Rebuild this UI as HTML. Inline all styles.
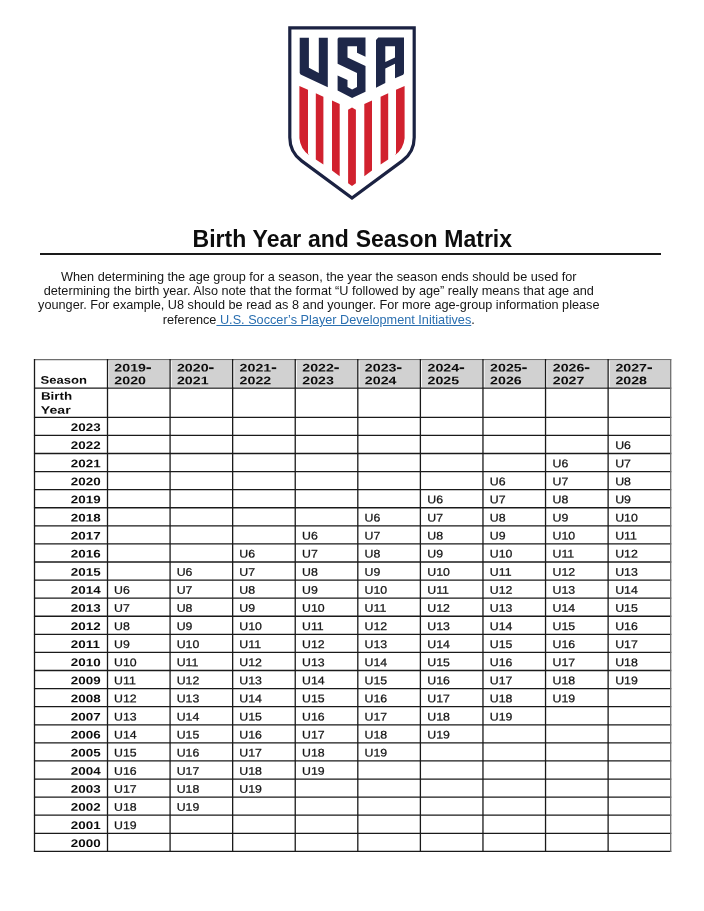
<!DOCTYPE html>
<html><head><meta charset="utf-8"><title>Birth Year and Season Matrix</title>
<style>
html,body{margin:0;padding:0;background:#fff}
body{width:704px;height:911px;position:relative;overflow:hidden;font-family:"Liberation Sans",sans-serif;color:#111}
.title{position:absolute;left:0.3px;width:704px;top:225.9px;text-align:center;font-weight:bold;font-size:23px;word-spacing:0.4px;line-height:26px;color:#0d0d0d;white-space:nowrap}
.rule{position:absolute;left:40px;width:621px;top:253px;height:2px;background:#1a1a1a}
.p{position:absolute;left:0;width:637.6px;text-align:center;font-size:12.7px;line-height:14.4px;color:#161616;white-space:nowrap}
.p a{color:#2a6fb0;text-decoration:underline}
.b,.n{position:absolute;left:0;top:0;transform-origin:0 0;font-size:11px;line-height:13px;white-space:nowrap;color:#0c0c0c}
.b{font-weight:bold}
.n{color:#141414;-webkit-text-stroke:0.25px #141414}
.pg{position:absolute;left:0;top:0;width:704px;height:911px;will-change:transform}
.hy{position:absolute;width:4.4px;height:1.9px;background:#0c0c0c}
</style></head><body><div class="pg">
<svg style="position:absolute;left:0;top:0" width="704" height="220" viewBox="0 0 704 220">
<path d="M289.8,27.8 H414.2 V137.5 Q414.2,152.2 402.36,160.9 L352,198 L301.64,160.9 Q289.8,152.2 289.8,137.5 Z" fill="#fff" stroke="#1b2242" stroke-width="3.2" stroke-linejoin="miter"/>
<path fill="#d1212e" d="M299.4,86.1 L308,89.8 V153.6 L309,155.2 Q300.4,149 299.4,138.3 Z"/>
<polygon points="315.8,93.3 323.4,96.8 323.4,164.4 315.8,159.5" fill="#d1212e"/>
<polygon points="332.0,100.5 339.7,104.1 339.7,176.2 332.0,170.6" fill="#d1212e"/>
<polygon points="348.1,109.7 352,107.6 355.9,109.7 355.9,183.2 352,185.9 348.1,183.2" fill="#d1212e"/>
<polygon points="364.3,104.1 372.0,100.5 372.0,170.6 364.3,176.2" fill="#d1212e"/>
<polygon points="380.6,96.8 388.2,93.3 388.2,159.5 380.6,164.4" fill="#d1212e"/>
<path fill="#d1212e" d="M404.6,86.1 L396,89.8 V153.6 L395,155.2 Q403.6,149 404.6,138.3 Z"/>
<polygon fill="#1e2749" points="299.7,37.7 308.9,37.7 308.9,67.8 318.8,72.9 318.8,37.7 327.8,37.7 327.8,87.3 300.6,74.5 299.7,73"/>
<polygon fill="#1e2749" points="337.6,38.7 338.7,37.6 365.5,37.6 365.5,56.8 357,52.7 357,46.3 347.5,46.3 347.5,57.4 365.5,66.1 365.5,91.7 352.1,98.1 337.6,90.6 337.6,75.4 347.5,80.1 347.5,87.1 352.1,89.4 357,87.1 357,73.1 337.6,63.8"/>
<path fill="#1e2749" fill-rule="evenodd" d="M376,39.9 L378.3,37.6 H404 V73.2 L403.2,74.7 L395,78.3 V63.8 L385.3,68.4 V83 L376,87.7 Z M385.3,46.3 H395 V57.4 L385.3,62 Z"/>
</svg>
<div class="title">Birth Year and Season Matrix</div>
<div class="rule"></div>
<div class="p" style="top:269.6px">When determining the age group for a season, the year the season ends should be used for<br>determining the birth year. Also note that the format “U followed by age” really means that age and<br>younger. For example, U8 should be read as 8 and younger. For more age-group information please<br>reference<a> U.S. Soccer’s Player Development Initiatives</a>.</div>
<svg style="position:absolute;left:0;top:0" width="704" height="911" viewBox="0 0 704 911"><rect x="109.10" y="360.60" width="60.38" height="26.30" fill="#d1d1d1"/>
<rect x="171.68" y="360.60" width="60.38" height="26.30" fill="#d1d1d1"/>
<rect x="234.26" y="360.60" width="60.38" height="26.30" fill="#d1d1d1"/>
<rect x="296.83" y="360.60" width="60.38" height="26.30" fill="#d1d1d1"/>
<rect x="359.41" y="360.60" width="60.38" height="26.30" fill="#d1d1d1"/>
<rect x="421.99" y="360.60" width="60.38" height="26.30" fill="#d1d1d1"/>
<rect x="484.57" y="360.60" width="60.38" height="26.30" fill="#d1d1d1"/>
<rect x="547.14" y="360.60" width="60.38" height="26.30" fill="#d1d1d1"/>
<rect x="609.72" y="360.60" width="60.38" height="26.30" fill="#d1d1d1"/>
<line x1="33.95" x2="671.25" y1="359.60" y2="359.60" stroke="#6e6e6e" stroke-width="1.3"/>
<line x1="33.95" x2="671.25" y1="388.10" y2="388.10" stroke="#1a1a1a" stroke-width="1.45"/>
<line x1="33.95" x2="671.25" y1="417.30" y2="417.30" stroke="#1a1a1a" stroke-width="1.3"/>
<line x1="33.95" x2="671.25" y1="435.39" y2="435.39" stroke="#1a1a1a" stroke-width="1.3"/>
<line x1="33.95" x2="671.25" y1="453.48" y2="453.48" stroke="#1a1a1a" stroke-width="1.3"/>
<line x1="33.95" x2="671.25" y1="471.56" y2="471.56" stroke="#1a1a1a" stroke-width="1.3"/>
<line x1="33.95" x2="671.25" y1="489.65" y2="489.65" stroke="#1a1a1a" stroke-width="1.3"/>
<line x1="33.95" x2="671.25" y1="507.74" y2="507.74" stroke="#1a1a1a" stroke-width="1.3"/>
<line x1="33.95" x2="671.25" y1="525.83" y2="525.83" stroke="#1a1a1a" stroke-width="1.3"/>
<line x1="33.95" x2="671.25" y1="543.91" y2="543.91" stroke="#1a1a1a" stroke-width="1.3"/>
<line x1="33.95" x2="671.25" y1="562.00" y2="562.00" stroke="#1a1a1a" stroke-width="1.3"/>
<line x1="33.95" x2="671.25" y1="580.09" y2="580.09" stroke="#1a1a1a" stroke-width="1.3"/>
<line x1="33.95" x2="671.25" y1="598.17" y2="598.17" stroke="#1a1a1a" stroke-width="1.3"/>
<line x1="33.95" x2="671.25" y1="616.26" y2="616.26" stroke="#1a1a1a" stroke-width="1.3"/>
<line x1="33.95" x2="671.25" y1="634.35" y2="634.35" stroke="#1a1a1a" stroke-width="1.3"/>
<line x1="33.95" x2="671.25" y1="652.44" y2="652.44" stroke="#1a1a1a" stroke-width="1.3"/>
<line x1="33.95" x2="671.25" y1="670.52" y2="670.52" stroke="#1a1a1a" stroke-width="1.3"/>
<line x1="33.95" x2="671.25" y1="688.61" y2="688.61" stroke="#1a1a1a" stroke-width="1.3"/>
<line x1="33.95" x2="671.25" y1="706.70" y2="706.70" stroke="#1a1a1a" stroke-width="1.3"/>
<line x1="33.95" x2="671.25" y1="724.79" y2="724.79" stroke="#1a1a1a" stroke-width="1.3"/>
<line x1="33.95" x2="671.25" y1="742.88" y2="742.88" stroke="#1a1a1a" stroke-width="1.3"/>
<line x1="33.95" x2="671.25" y1="760.96" y2="760.96" stroke="#1a1a1a" stroke-width="1.3"/>
<line x1="33.95" x2="671.25" y1="779.05" y2="779.05" stroke="#1a1a1a" stroke-width="1.3"/>
<line x1="33.95" x2="671.25" y1="797.14" y2="797.14" stroke="#1a1a1a" stroke-width="1.3"/>
<line x1="33.95" x2="671.25" y1="815.22" y2="815.22" stroke="#1a1a1a" stroke-width="1.3"/>
<line x1="33.95" x2="671.25" y1="833.31" y2="833.31" stroke="#1a1a1a" stroke-width="1.3"/>
<line x1="33.95" x2="671.25" y1="851.40" y2="851.40" stroke="#1a1a1a" stroke-width="1.3"/>
<line y1="359.05" y2="851.95" x1="34.50" x2="34.50" stroke="#1a1a1a" stroke-width="1.3"/>
<line y1="359.05" y2="851.95" x1="107.50" x2="107.50" stroke="#1a1a1a" stroke-width="1.3"/>
<line y1="359.05" y2="851.95" x1="170.08" x2="170.08" stroke="#1a1a1a" stroke-width="1.3"/>
<line y1="359.05" y2="851.95" x1="232.66" x2="232.66" stroke="#1a1a1a" stroke-width="1.3"/>
<line y1="359.05" y2="851.95" x1="295.23" x2="295.23" stroke="#1a1a1a" stroke-width="1.3"/>
<line y1="359.05" y2="851.95" x1="357.81" x2="357.81" stroke="#1a1a1a" stroke-width="1.3"/>
<line y1="359.05" y2="851.95" x1="420.39" x2="420.39" stroke="#1a1a1a" stroke-width="1.3"/>
<line y1="359.05" y2="851.95" x1="482.97" x2="482.97" stroke="#1a1a1a" stroke-width="1.3"/>
<line y1="359.05" y2="851.95" x1="545.54" x2="545.54" stroke="#1a1a1a" stroke-width="1.3"/>
<line y1="359.05" y2="851.95" x1="608.12" x2="608.12" stroke="#1a1a1a" stroke-width="1.3"/>
<line y1="359.05" y2="851.95" x1="670.70" x2="670.70" stroke="#6e6e6e" stroke-width="1.3"/></svg>
<span class="b" style="transform:translate(40.60px,373.80px) scaleX(1.187) rotate(0.03deg)">Season</span>
<span class="b" style="transform:translate(114.35px,361.40px) scaleX(1.29) rotate(0.03deg)">2019</span>
<svg style="position:absolute;left:0;top:0;overflow:visible" width="1" height="1"><rect x="146.45" y="367.30" width="4.5" height="1.8" fill="#0c0c0c"/></svg>
<span class="b" style="transform:translate(114.35px,374.30px) scaleX(1.29) rotate(0.03deg)">2020</span>
<span class="b" style="transform:translate(176.98px,361.40px) scaleX(1.29) rotate(0.03deg)">2020</span>
<svg style="position:absolute;left:0;top:0;overflow:visible" width="1" height="1"><rect x="209.08" y="367.30" width="4.5" height="1.8" fill="#0c0c0c"/></svg>
<span class="b" style="transform:translate(176.98px,374.30px) scaleX(1.29) rotate(0.03deg)">2021</span>
<span class="b" style="transform:translate(239.61px,361.40px) scaleX(1.29) rotate(0.03deg)">2021</span>
<svg style="position:absolute;left:0;top:0;overflow:visible" width="1" height="1"><rect x="271.71" y="367.30" width="4.5" height="1.8" fill="#0c0c0c"/></svg>
<span class="b" style="transform:translate(239.61px,374.30px) scaleX(1.29) rotate(0.03deg)">2022</span>
<span class="b" style="transform:translate(302.24px,361.40px) scaleX(1.29) rotate(0.03deg)">2022</span>
<svg style="position:absolute;left:0;top:0;overflow:visible" width="1" height="1"><rect x="334.34" y="367.30" width="4.5" height="1.8" fill="#0c0c0c"/></svg>
<span class="b" style="transform:translate(302.24px,374.30px) scaleX(1.29) rotate(0.03deg)">2023</span>
<span class="b" style="transform:translate(364.87px,361.40px) scaleX(1.29) rotate(0.03deg)">2023</span>
<svg style="position:absolute;left:0;top:0;overflow:visible" width="1" height="1"><rect x="396.97" y="367.30" width="4.5" height="1.8" fill="#0c0c0c"/></svg>
<span class="b" style="transform:translate(364.87px,374.30px) scaleX(1.29) rotate(0.03deg)">2024</span>
<span class="b" style="transform:translate(427.50px,361.40px) scaleX(1.29) rotate(0.03deg)">2024</span>
<svg style="position:absolute;left:0;top:0;overflow:visible" width="1" height="1"><rect x="459.60" y="367.30" width="4.5" height="1.8" fill="#0c0c0c"/></svg>
<span class="b" style="transform:translate(427.50px,374.30px) scaleX(1.29) rotate(0.03deg)">2025</span>
<span class="b" style="transform:translate(490.13px,361.40px) scaleX(1.29) rotate(0.03deg)">2025</span>
<svg style="position:absolute;left:0;top:0;overflow:visible" width="1" height="1"><rect x="522.23" y="367.30" width="4.5" height="1.8" fill="#0c0c0c"/></svg>
<span class="b" style="transform:translate(490.13px,374.30px) scaleX(1.29) rotate(0.03deg)">2026</span>
<span class="b" style="transform:translate(552.76px,361.40px) scaleX(1.29) rotate(0.03deg)">2026</span>
<svg style="position:absolute;left:0;top:0;overflow:visible" width="1" height="1"><rect x="584.86" y="367.30" width="4.5" height="1.8" fill="#0c0c0c"/></svg>
<span class="b" style="transform:translate(552.76px,374.30px) scaleX(1.29) rotate(0.03deg)">2027</span>
<span class="b" style="transform:translate(615.39px,361.40px) scaleX(1.29) rotate(0.03deg)">2027</span>
<svg style="position:absolute;left:0;top:0;overflow:visible" width="1" height="1"><rect x="647.49" y="367.30" width="4.5" height="1.8" fill="#0c0c0c"/></svg>
<span class="b" style="transform:translate(615.39px,374.30px) scaleX(1.29) rotate(0.03deg)">2028</span>
<span class="b" style="transform:translate(40.90px,389.70px) scaleX(1.216) rotate(0.03deg)">Birth</span>
<span class="b" style="transform:translate(40.80px,403.70px) scaleX(1.283) rotate(0.03deg)">Year</span>
<span class="b" style="transform:translate(70.84px,420.99px) scaleX(1.216) rotate(0.03deg)">2023</span>
<span class="b" style="transform:translate(70.84px,439.07px) scaleX(1.216) rotate(0.03deg)">2022</span>
<span class="n" style="transform:translate(615.14px,439.07px) scaleX(1.12) rotate(0.03deg)">U6</span>
<span class="b" style="transform:translate(70.84px,457.16px) scaleX(1.216) rotate(0.03deg)">2021</span>
<span class="n" style="transform:translate(552.51px,457.16px) scaleX(1.12) rotate(0.03deg)">U6</span>
<span class="n" style="transform:translate(615.14px,457.16px) scaleX(1.12) rotate(0.03deg)">U7</span>
<span class="b" style="transform:translate(70.84px,475.25px) scaleX(1.216) rotate(0.03deg)">2020</span>
<span class="n" style="transform:translate(489.88px,475.25px) scaleX(1.12) rotate(0.03deg)">U6</span>
<span class="n" style="transform:translate(552.51px,475.25px) scaleX(1.12) rotate(0.03deg)">U7</span>
<span class="n" style="transform:translate(615.14px,475.25px) scaleX(1.12) rotate(0.03deg)">U8</span>
<span class="b" style="transform:translate(70.84px,493.34px) scaleX(1.216) rotate(0.03deg)">2019</span>
<span class="n" style="transform:translate(427.25px,493.34px) scaleX(1.12) rotate(0.03deg)">U6</span>
<span class="n" style="transform:translate(489.88px,493.34px) scaleX(1.12) rotate(0.03deg)">U7</span>
<span class="n" style="transform:translate(552.51px,493.34px) scaleX(1.12) rotate(0.03deg)">U8</span>
<span class="n" style="transform:translate(615.14px,493.34px) scaleX(1.12) rotate(0.03deg)">U9</span>
<span class="b" style="transform:translate(70.84px,511.43px) scaleX(1.216) rotate(0.03deg)">2018</span>
<span class="n" style="transform:translate(364.62px,511.43px) scaleX(1.12) rotate(0.03deg)">U6</span>
<span class="n" style="transform:translate(427.25px,511.43px) scaleX(1.12) rotate(0.03deg)">U7</span>
<span class="n" style="transform:translate(489.88px,511.43px) scaleX(1.12) rotate(0.03deg)">U8</span>
<span class="n" style="transform:translate(552.51px,511.43px) scaleX(1.12) rotate(0.03deg)">U9</span>
<span class="n" style="transform:translate(615.14px,511.43px) scaleX(1.12) rotate(0.03deg)">U10</span>
<span class="b" style="transform:translate(70.84px,529.51px) scaleX(1.216) rotate(0.03deg)">2017</span>
<span class="n" style="transform:translate(301.99px,529.51px) scaleX(1.12) rotate(0.03deg)">U6</span>
<span class="n" style="transform:translate(364.62px,529.51px) scaleX(1.12) rotate(0.03deg)">U7</span>
<span class="n" style="transform:translate(427.25px,529.51px) scaleX(1.12) rotate(0.03deg)">U8</span>
<span class="n" style="transform:translate(489.88px,529.51px) scaleX(1.12) rotate(0.03deg)">U9</span>
<span class="n" style="transform:translate(552.51px,529.51px) scaleX(1.12) rotate(0.03deg)">U10</span>
<span class="n" style="transform:translate(615.14px,529.51px) scaleX(1.12) rotate(0.03deg)">U11</span>
<span class="b" style="transform:translate(70.84px,547.60px) scaleX(1.216) rotate(0.03deg)">2016</span>
<span class="n" style="transform:translate(239.36px,547.60px) scaleX(1.12) rotate(0.03deg)">U6</span>
<span class="n" style="transform:translate(301.99px,547.60px) scaleX(1.12) rotate(0.03deg)">U7</span>
<span class="n" style="transform:translate(364.62px,547.60px) scaleX(1.12) rotate(0.03deg)">U8</span>
<span class="n" style="transform:translate(427.25px,547.60px) scaleX(1.12) rotate(0.03deg)">U9</span>
<span class="n" style="transform:translate(489.88px,547.60px) scaleX(1.12) rotate(0.03deg)">U10</span>
<span class="n" style="transform:translate(552.51px,547.60px) scaleX(1.12) rotate(0.03deg)">U11</span>
<span class="n" style="transform:translate(615.14px,547.60px) scaleX(1.12) rotate(0.03deg)">U12</span>
<span class="b" style="transform:translate(70.84px,565.69px) scaleX(1.216) rotate(0.03deg)">2015</span>
<span class="n" style="transform:translate(176.73px,565.69px) scaleX(1.12) rotate(0.03deg)">U6</span>
<span class="n" style="transform:translate(239.36px,565.69px) scaleX(1.12) rotate(0.03deg)">U7</span>
<span class="n" style="transform:translate(301.99px,565.69px) scaleX(1.12) rotate(0.03deg)">U8</span>
<span class="n" style="transform:translate(364.62px,565.69px) scaleX(1.12) rotate(0.03deg)">U9</span>
<span class="n" style="transform:translate(427.25px,565.69px) scaleX(1.12) rotate(0.03deg)">U10</span>
<span class="n" style="transform:translate(489.88px,565.69px) scaleX(1.12) rotate(0.03deg)">U11</span>
<span class="n" style="transform:translate(552.51px,565.69px) scaleX(1.12) rotate(0.03deg)">U12</span>
<span class="n" style="transform:translate(615.14px,565.69px) scaleX(1.12) rotate(0.03deg)">U13</span>
<span class="b" style="transform:translate(70.84px,583.77px) scaleX(1.216) rotate(0.03deg)">2014</span>
<span class="n" style="transform:translate(114.10px,583.77px) scaleX(1.12) rotate(0.03deg)">U6</span>
<span class="n" style="transform:translate(176.73px,583.77px) scaleX(1.12) rotate(0.03deg)">U7</span>
<span class="n" style="transform:translate(239.36px,583.77px) scaleX(1.12) rotate(0.03deg)">U8</span>
<span class="n" style="transform:translate(301.99px,583.77px) scaleX(1.12) rotate(0.03deg)">U9</span>
<span class="n" style="transform:translate(364.62px,583.77px) scaleX(1.12) rotate(0.03deg)">U10</span>
<span class="n" style="transform:translate(427.25px,583.77px) scaleX(1.12) rotate(0.03deg)">U11</span>
<span class="n" style="transform:translate(489.88px,583.77px) scaleX(1.12) rotate(0.03deg)">U12</span>
<span class="n" style="transform:translate(552.51px,583.77px) scaleX(1.12) rotate(0.03deg)">U13</span>
<span class="n" style="transform:translate(615.14px,583.77px) scaleX(1.12) rotate(0.03deg)">U14</span>
<span class="b" style="transform:translate(70.84px,601.86px) scaleX(1.216) rotate(0.03deg)">2013</span>
<span class="n" style="transform:translate(114.10px,601.86px) scaleX(1.12) rotate(0.03deg)">U7</span>
<span class="n" style="transform:translate(176.73px,601.86px) scaleX(1.12) rotate(0.03deg)">U8</span>
<span class="n" style="transform:translate(239.36px,601.86px) scaleX(1.12) rotate(0.03deg)">U9</span>
<span class="n" style="transform:translate(301.99px,601.86px) scaleX(1.12) rotate(0.03deg)">U10</span>
<span class="n" style="transform:translate(364.62px,601.86px) scaleX(1.12) rotate(0.03deg)">U11</span>
<span class="n" style="transform:translate(427.25px,601.86px) scaleX(1.12) rotate(0.03deg)">U12</span>
<span class="n" style="transform:translate(489.88px,601.86px) scaleX(1.12) rotate(0.03deg)">U13</span>
<span class="n" style="transform:translate(552.51px,601.86px) scaleX(1.12) rotate(0.03deg)">U14</span>
<span class="n" style="transform:translate(615.14px,601.86px) scaleX(1.12) rotate(0.03deg)">U15</span>
<span class="b" style="transform:translate(70.84px,619.95px) scaleX(1.216) rotate(0.03deg)">2012</span>
<span class="n" style="transform:translate(114.10px,619.95px) scaleX(1.12) rotate(0.03deg)">U8</span>
<span class="n" style="transform:translate(176.73px,619.95px) scaleX(1.12) rotate(0.03deg)">U9</span>
<span class="n" style="transform:translate(239.36px,619.95px) scaleX(1.12) rotate(0.03deg)">U10</span>
<span class="n" style="transform:translate(301.99px,619.95px) scaleX(1.12) rotate(0.03deg)">U11</span>
<span class="n" style="transform:translate(364.62px,619.95px) scaleX(1.12) rotate(0.03deg)">U12</span>
<span class="n" style="transform:translate(427.25px,619.95px) scaleX(1.12) rotate(0.03deg)">U13</span>
<span class="n" style="transform:translate(489.88px,619.95px) scaleX(1.12) rotate(0.03deg)">U14</span>
<span class="n" style="transform:translate(552.51px,619.95px) scaleX(1.12) rotate(0.03deg)">U15</span>
<span class="n" style="transform:translate(615.14px,619.95px) scaleX(1.12) rotate(0.03deg)">U16</span>
<span class="b" style="transform:translate(70.84px,638.04px) scaleX(1.216) rotate(0.03deg)">2011</span>
<span class="n" style="transform:translate(114.10px,638.04px) scaleX(1.12) rotate(0.03deg)">U9</span>
<span class="n" style="transform:translate(176.73px,638.04px) scaleX(1.12) rotate(0.03deg)">U10</span>
<span class="n" style="transform:translate(239.36px,638.04px) scaleX(1.12) rotate(0.03deg)">U11</span>
<span class="n" style="transform:translate(301.99px,638.04px) scaleX(1.12) rotate(0.03deg)">U12</span>
<span class="n" style="transform:translate(364.62px,638.04px) scaleX(1.12) rotate(0.03deg)">U13</span>
<span class="n" style="transform:translate(427.25px,638.04px) scaleX(1.12) rotate(0.03deg)">U14</span>
<span class="n" style="transform:translate(489.88px,638.04px) scaleX(1.12) rotate(0.03deg)">U15</span>
<span class="n" style="transform:translate(552.51px,638.04px) scaleX(1.12) rotate(0.03deg)">U16</span>
<span class="n" style="transform:translate(615.14px,638.04px) scaleX(1.12) rotate(0.03deg)">U17</span>
<span class="b" style="transform:translate(70.84px,656.12px) scaleX(1.216) rotate(0.03deg)">2010</span>
<span class="n" style="transform:translate(114.10px,656.12px) scaleX(1.12) rotate(0.03deg)">U10</span>
<span class="n" style="transform:translate(176.73px,656.12px) scaleX(1.12) rotate(0.03deg)">U11</span>
<span class="n" style="transform:translate(239.36px,656.12px) scaleX(1.12) rotate(0.03deg)">U12</span>
<span class="n" style="transform:translate(301.99px,656.12px) scaleX(1.12) rotate(0.03deg)">U13</span>
<span class="n" style="transform:translate(364.62px,656.12px) scaleX(1.12) rotate(0.03deg)">U14</span>
<span class="n" style="transform:translate(427.25px,656.12px) scaleX(1.12) rotate(0.03deg)">U15</span>
<span class="n" style="transform:translate(489.88px,656.12px) scaleX(1.12) rotate(0.03deg)">U16</span>
<span class="n" style="transform:translate(552.51px,656.12px) scaleX(1.12) rotate(0.03deg)">U17</span>
<span class="n" style="transform:translate(615.14px,656.12px) scaleX(1.12) rotate(0.03deg)">U18</span>
<span class="b" style="transform:translate(70.84px,674.21px) scaleX(1.216) rotate(0.03deg)">2009</span>
<span class="n" style="transform:translate(114.10px,674.21px) scaleX(1.12) rotate(0.03deg)">U11</span>
<span class="n" style="transform:translate(176.73px,674.21px) scaleX(1.12) rotate(0.03deg)">U12</span>
<span class="n" style="transform:translate(239.36px,674.21px) scaleX(1.12) rotate(0.03deg)">U13</span>
<span class="n" style="transform:translate(301.99px,674.21px) scaleX(1.12) rotate(0.03deg)">U14</span>
<span class="n" style="transform:translate(364.62px,674.21px) scaleX(1.12) rotate(0.03deg)">U15</span>
<span class="n" style="transform:translate(427.25px,674.21px) scaleX(1.12) rotate(0.03deg)">U16</span>
<span class="n" style="transform:translate(489.88px,674.21px) scaleX(1.12) rotate(0.03deg)">U17</span>
<span class="n" style="transform:translate(552.51px,674.21px) scaleX(1.12) rotate(0.03deg)">U18</span>
<span class="n" style="transform:translate(615.14px,674.21px) scaleX(1.12) rotate(0.03deg)">U19</span>
<span class="b" style="transform:translate(70.84px,692.30px) scaleX(1.216) rotate(0.03deg)">2008</span>
<span class="n" style="transform:translate(114.10px,692.30px) scaleX(1.12) rotate(0.03deg)">U12</span>
<span class="n" style="transform:translate(176.73px,692.30px) scaleX(1.12) rotate(0.03deg)">U13</span>
<span class="n" style="transform:translate(239.36px,692.30px) scaleX(1.12) rotate(0.03deg)">U14</span>
<span class="n" style="transform:translate(301.99px,692.30px) scaleX(1.12) rotate(0.03deg)">U15</span>
<span class="n" style="transform:translate(364.62px,692.30px) scaleX(1.12) rotate(0.03deg)">U16</span>
<span class="n" style="transform:translate(427.25px,692.30px) scaleX(1.12) rotate(0.03deg)">U17</span>
<span class="n" style="transform:translate(489.88px,692.30px) scaleX(1.12) rotate(0.03deg)">U18</span>
<span class="n" style="transform:translate(552.51px,692.30px) scaleX(1.12) rotate(0.03deg)">U19</span>
<span class="b" style="transform:translate(70.84px,710.39px) scaleX(1.216) rotate(0.03deg)">2007</span>
<span class="n" style="transform:translate(114.10px,710.39px) scaleX(1.12) rotate(0.03deg)">U13</span>
<span class="n" style="transform:translate(176.73px,710.39px) scaleX(1.12) rotate(0.03deg)">U14</span>
<span class="n" style="transform:translate(239.36px,710.39px) scaleX(1.12) rotate(0.03deg)">U15</span>
<span class="n" style="transform:translate(301.99px,710.39px) scaleX(1.12) rotate(0.03deg)">U16</span>
<span class="n" style="transform:translate(364.62px,710.39px) scaleX(1.12) rotate(0.03deg)">U17</span>
<span class="n" style="transform:translate(427.25px,710.39px) scaleX(1.12) rotate(0.03deg)">U18</span>
<span class="n" style="transform:translate(489.88px,710.39px) scaleX(1.12) rotate(0.03deg)">U19</span>
<span class="b" style="transform:translate(70.84px,728.48px) scaleX(1.216) rotate(0.03deg)">2006</span>
<span class="n" style="transform:translate(114.10px,728.48px) scaleX(1.12) rotate(0.03deg)">U14</span>
<span class="n" style="transform:translate(176.73px,728.48px) scaleX(1.12) rotate(0.03deg)">U15</span>
<span class="n" style="transform:translate(239.36px,728.48px) scaleX(1.12) rotate(0.03deg)">U16</span>
<span class="n" style="transform:translate(301.99px,728.48px) scaleX(1.12) rotate(0.03deg)">U17</span>
<span class="n" style="transform:translate(364.62px,728.48px) scaleX(1.12) rotate(0.03deg)">U18</span>
<span class="n" style="transform:translate(427.25px,728.48px) scaleX(1.12) rotate(0.03deg)">U19</span>
<span class="b" style="transform:translate(70.84px,746.56px) scaleX(1.216) rotate(0.03deg)">2005</span>
<span class="n" style="transform:translate(114.10px,746.56px) scaleX(1.12) rotate(0.03deg)">U15</span>
<span class="n" style="transform:translate(176.73px,746.56px) scaleX(1.12) rotate(0.03deg)">U16</span>
<span class="n" style="transform:translate(239.36px,746.56px) scaleX(1.12) rotate(0.03deg)">U17</span>
<span class="n" style="transform:translate(301.99px,746.56px) scaleX(1.12) rotate(0.03deg)">U18</span>
<span class="n" style="transform:translate(364.62px,746.56px) scaleX(1.12) rotate(0.03deg)">U19</span>
<span class="b" style="transform:translate(70.84px,764.65px) scaleX(1.216) rotate(0.03deg)">2004</span>
<span class="n" style="transform:translate(114.10px,764.65px) scaleX(1.12) rotate(0.03deg)">U16</span>
<span class="n" style="transform:translate(176.73px,764.65px) scaleX(1.12) rotate(0.03deg)">U17</span>
<span class="n" style="transform:translate(239.36px,764.65px) scaleX(1.12) rotate(0.03deg)">U18</span>
<span class="n" style="transform:translate(301.99px,764.65px) scaleX(1.12) rotate(0.03deg)">U19</span>
<span class="b" style="transform:translate(70.84px,782.74px) scaleX(1.216) rotate(0.03deg)">2003</span>
<span class="n" style="transform:translate(114.10px,782.74px) scaleX(1.12) rotate(0.03deg)">U17</span>
<span class="n" style="transform:translate(176.73px,782.74px) scaleX(1.12) rotate(0.03deg)">U18</span>
<span class="n" style="transform:translate(239.36px,782.74px) scaleX(1.12) rotate(0.03deg)">U19</span>
<span class="b" style="transform:translate(70.84px,800.82px) scaleX(1.216) rotate(0.03deg)">2002</span>
<span class="n" style="transform:translate(114.10px,800.82px) scaleX(1.12) rotate(0.03deg)">U18</span>
<span class="n" style="transform:translate(176.73px,800.82px) scaleX(1.12) rotate(0.03deg)">U19</span>
<span class="b" style="transform:translate(70.84px,818.91px) scaleX(1.216) rotate(0.03deg)">2001</span>
<span class="n" style="transform:translate(114.10px,818.91px) scaleX(1.12) rotate(0.03deg)">U19</span>
<span class="b" style="transform:translate(70.84px,837.00px) scaleX(1.216) rotate(0.03deg)">2000</span>
</div></body></html>
